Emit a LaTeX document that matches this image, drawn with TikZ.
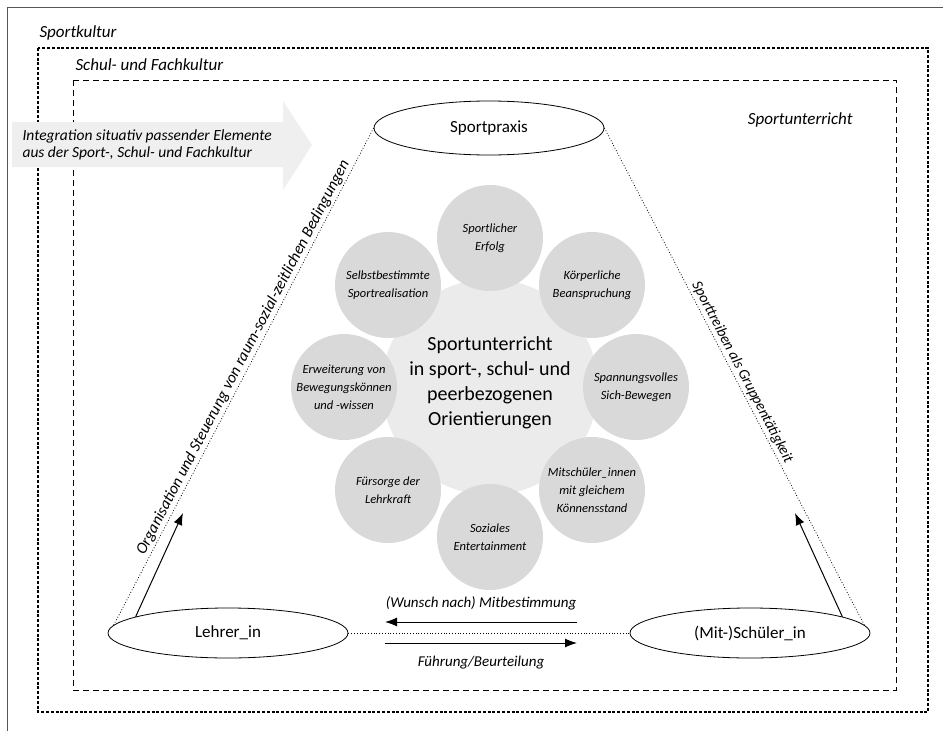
\documentclass[tikz,border=0pt]{standalone}
\usepackage{fontspec}
\setmainfont{Carlito}
\usepackage{tikz}
\usetikzlibrary{shapes}
\usetikzlibrary{arrows.meta}
\definecolor{kreisgrau}{HTML}{D9D9D9}
\definecolor{mittegrau}{HTML}{EBEBEB}
\definecolor{pfeilgrau}{HTML}{EFEFEF}
\definecolor{rahmengrau}{HTML}{555555}

\begin{document}
\begin{tikzpicture}[x=1pt,y=-1pt,
        rolle/.style={draw,ellipse,line width=0.8pt,minimum width=240pt,minimum height=50pt,font=\fontsize{17}{20}\selectfont},
        orient/.style={circle,fill=kreisgrau,minimum size=106pt,inner sep=0pt,align=center,font=\fontsize{12.5}{18}\selectfont\itshape},
        kultur/.style={anchor=west,font=\fontsize{17}{20}\selectfont\itshape},
        schrift/.style={font=\fontsize{15}{18}\selectfont\itshape},
        pfeil/.style={-{Latex[length=12pt,width=9pt]},line width=1pt},
        bezug/.style={dotted,line width=0.8pt}]
        \useasboundingbox (0,0) rectangle (943,731);

        \draw[rahmengrau,line width=0.8pt] (7,731) -- (7,7) -- (943,7);
        \draw[line width=1.1pt,dash pattern=on 3pt off 1.8pt] (38,48) rectangle (928,712);
        \draw[line width=1pt,dash pattern=on 6pt off 4pt] (73,80) rectangle (896,690);

        \node[kultur] (sportkultur) at (36,33) {Sportkultur};
        \node[kultur] (schulkultur) at (72,65) {Schul- und Fachkultur};
        \node[kultur,anchor=east] (unterricht) at (856,120) {Sportunterricht};

        \fill[pfeilgrau] (12,122) -- (283,122) -- (283,101) -- (312,145) -- (283,190) -- (283,167) -- (12,167) -- cycle;
        \node[anchor=west,align=left,font=\fontsize{15.5}{17}\selectfont\itshape] (integration) at (19,145) {Integration situativ passender Elemente\\aus der Sport-, Schul- und Fachkultur};

        \node[rolle,minimum width=230pt,minimum height=54pt] (praxis) at (489,128) {Sportpraxis};
        \node[rolle] (lehrer) at (228,633) {Lehrer\_in};
        \node[rolle] (schueler) at (750,633) {(Mit-)Schüler\_in};

        \node[circle,fill=mittegrau,minimum size=216pt,inner sep=0pt] (mitte) at (490,387) {};
        \node[orient] (erfolg) at (490,238) {Sportlicher\\Erfolg};
        \node[orient] (koerper) at (592,285) {Körperliche\\Beanspruchung};
        \node[orient] (spannung) at (636,387) {Spannungsvolles\\Sich-Bewegen};
        \node[orient] (gleich) at (592,490) {Mitschüler\_innen\\mit gleichem\\Könnensstand};
        \node[orient] (sozial) at (490,537) {Soziales\\Entertainment};
        \node[orient] (fuersorge) at (388,490) {Fürsorge der\\Lehrkraft};
        \node[orient] (erweiterung) at (344,387) {Erweiterung von\\Bewegungskönnen\\und -wissen};
        \node[orient] (selbst) at (388,285) {Selbstbestimmte\\Sportrealisation};
        \node[align=center,font=\fontsize{20}{25}\selectfont] (mittetext) at (490,383) {Sportunterricht\\in sport-, schul- und\\peerbezogenen\\Orientierungen};

        \draw[bezug] (lehrer.176) -- (praxis.west)
            node[pos=0.53,above,sloped,inner sep=2pt,font=\fontsize{16}{18}\selectfont\itshape] {Organisation und Steuerung von raum-sozial-zeitlichen Bedingungen};
        \draw[bezug] (praxis.east) -- (schueler.4)
            node[pos=0.5,above,sloped,inner sep=2pt,schrift] {Sporttreiben als Gruppentätigkeit};
        \draw[bezug] (lehrer.east) -- (schueler.west);

        \coordinate (spitzeL) at (183,513);
        \coordinate (spitzeR) at (795,513);
        \draw[pfeil] (lehrer.170) -- (spitzeL);
        \draw[pfeil] (schueler.10) -- (spitzeR);

        \coordinate (wunschA) at (577,622);
        \coordinate (wunschB) at (385,622);
        \coordinate (fuehrA) at (385,643);
        \coordinate (fuehrB) at (577,643);
        \draw[pfeil] (wunschA) -- (wunschB);
        \draw[pfeil] (fuehrA) -- (fuehrB);
        \node[schrift] (wunsch) at (481,603) {(Wunsch nach) Mitbestimmung};
        \node[schrift] (fuehrung) at (481,663) {Führung/Beurteilung};
    \end{tikzpicture}
\end{document}
